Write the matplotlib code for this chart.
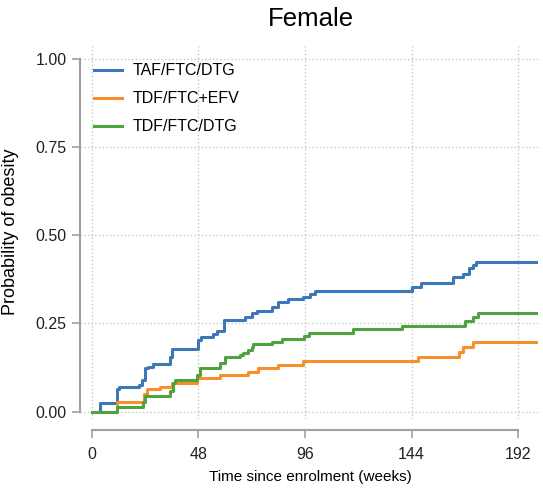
import numpy as np
import matplotlib.pyplot as plt
import matplotlib

matplotlib.rcParams.update({'font.family': ['Liberation Sans', 'DejaVu Sans']})

# step times (weeks) and cumulative probability of obesity
taf_t = [0, 3.7, 11.5, 12.4, 21.4, 22.5, 24, 25.5, 27.5, 35.2, 36, 48, 49, 54.7, 56.3, 59.5,
         69, 72, 74.3, 81, 84, 88.5, 95.2, 98.2, 100.5, 144, 148, 162.7, 167.2, 170, 171.5, 173, 200]
taf_p = [0, 0.024, 0.064, 0.069, 0.076, 0.090, 0.124, 0.127, 0.135, 0.156, 0.178, 0.203, 0.210, 0.220, 0.227, 0.260,
         0.267, 0.279, 0.286, 0.297, 0.312, 0.318, 0.326, 0.333, 0.343, 0.352, 0.364, 0.381, 0.390, 0.406, 0.416, 0.425, 0.425]

efv_t = [0, 11.5, 23.5, 24.7, 30.7, 36, 47.2, 57.7, 70.5, 75, 84, 95.2, 147, 165.4, 167.2, 171.7, 200]
efv_p = [0, 0.027, 0.050, 0.063, 0.071, 0.080, 0.094, 0.104, 0.113, 0.123, 0.132, 0.143, 0.156, 0.170, 0.184, 0.198, 0.198]

dtg_t = [0, 11.5, 23.2, 24, 35, 36.5, 37.5, 47.2, 48.7, 57.7, 60, 66.7, 68.2, 70.5, 72, 72.7, 81, 85.5,
         95.5, 98, 117.7, 139.5, 168, 171.5, 173.7, 200]
dtg_p = [0, 0.012, 0.028, 0.044, 0.057, 0.080, 0.090, 0.104, 0.123, 0.137, 0.154, 0.160, 0.165, 0.175, 0.182, 0.192, 0.198, 0.205,
         0.214, 0.222, 0.233, 0.244, 0.258, 0.269, 0.280, 0.280]

xticks = [0, 48, 96, 144, 192]
yticks = [0, 0.25, 0.5, 0.75, 1.0]

fig = plt.figure(figsize=(5.43, 4.90), dpi=100)
ax = fig.add_axes([80/543, 1-419/490, 460/543, 374/490])

for t, p, c, lab in zip([taf_t, efv_t, dtg_t], [taf_p, efv_p, dtg_p],
                        ['#3c78b8', '#f7902c', '#4ea33e'],
                        ['TAF/FTC/DTG', 'TDF/FTC+EFV', 'TDF/FTC/DTG']):
    ax.plot(t, p, drawstyle='steps-post', color=c, lw=2.2, label=lab)

ax.set_xlim(-5.3, 201.8)
ax.set_ylim(-0.021, 1.039)
ax.set_xticks(xticks)
ax.set_yticks(yticks)
ax.set_yticklabels([f"{v:.2f}" for v in yticks])
ax.grid(True, ls=':', color='#c8c8c8', lw=1.0)

for s in ['top', 'right']:
    ax.spines[s].set_visible(False)
ax.spines['left'].set_bounds(0, 1)
ax.spines['bottom'].set_bounds(0, 192)
ax.spines['bottom'].set_position(('outward', 8))
for s in ['left', 'bottom']:
    ax.spines[s].set_color('#a0a0a0')
    ax.spines[s].set_linewidth(1.5)
ax.tick_params(colors='#a0a0a0', width=1.2, length=6, labelcolor='#222222', labelsize=11.5)
ax.tick_params(axis='x', pad=6)

ax.set_title("Female", fontsize=18.5, pad=14, x=0.503)
ax.set_xlabel("Time since enrolment (weeks)", fontsize=11, labelpad=6)
ax.set_ylabel("Probability of obesity", fontsize=13, labelpad=12)

ax.legend(loc='upper left', bbox_to_anchor=(0.0, 0.99), frameon=False, fontsize=11.5,
          handlelength=1.7, handletextpad=0.7, labelspacing=0.82)

fig.savefig("out.png", dpi=100)
